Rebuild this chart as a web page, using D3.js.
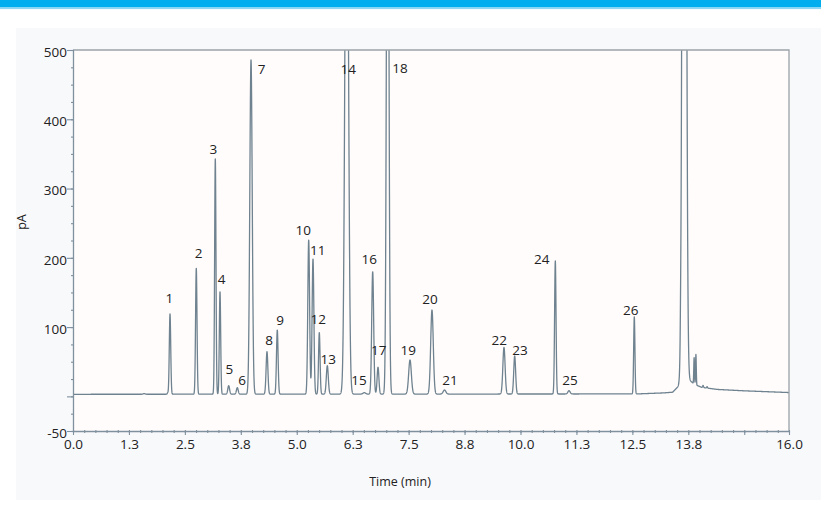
<!DOCTYPE html>
<html>
<head>
<meta charset="utf-8">
<script src="https://cdn.jsdelivr.net/npm/d3@7"></script>
<style>
  html, body { margin: 0; padding: 0; background: #ffffff; }
  svg { display: block; font-family: "Open Sans", "Noto Sans", sans-serif; }
</style>
</head>
<body>
<svg id="chart" width="821" height="526"></svg>
<script>
// Labelled peaks: retention time (min), apex signal (pA), peak sigma (min)
const peakLabels = ["1","2","3","4","5","6","7","8","9","10","11","12","13",
                    "14","15","16","17","18","19","20","21","22","23","24","25","26"];
const peakTimes  = [2.168, 2.755, 3.180, 3.285, 3.479, 3.672, 3.978, 4.335, 4.565,
                    5.267, 5.363, 5.504, 5.683, 6.116, 6.510, 6.697, 6.816, 7.032,
                    7.531, 8.022, 8.302, 9.631, 9.870, 10.778, 11.084, 12.543];
const peakApex   = [118.9, 184.9, 342.7, 151.1, 15.4, 12.5, 485.6, 64.5, 95.8,
                    225.7, 198.3, 91.9, 44.3, 930, 5.3, 180.0, 42.0, 1040,
                    52.5, 124.7, 9.2, 70.8, 58.3, 195.4, 8.2, 115.0];
const peakSigma  = [0.016, 0.016, 0.015, 0.015, 0.020, 0.020, 0.027, 0.020, 0.018,
                    0.020, 0.020, 0.017, 0.022, 0.037, 0.030, 0.022, 0.020, 0.025,
                    0.030, 0.029, 0.030, 0.025, 0.021, 0.016, 0.025, 0.014];

// Label anchors in data units (time, pA)
const labelTimes  = [2.152, 2.808, 3.135, 3.323, 3.493, 3.777, 4.216, 4.380, 4.626,
                     5.146, 5.468, 5.482, 5.705, 6.152, 6.391, 6.621, 6.831, 7.307,
                     7.493, 7.978, 8.425, 9.526, 9.989, 10.473, 11.106, 12.462];
const labelValues = [141.6, 206.9, 357.1, 168.9, 38.9, 23.5, 472.1, 81.3, 110.2,
                     240.1, 211.2, 111.1, 53.4, 472.1, 23.5, 197.4, 66.9, 473.6,
                     66.9, 140.2, 23.5, 81.3, 66.9, 197.8, 23.5, 124.6];

// Unlabelled components: solvent front, its shoulders and small bumps
const extraTimes = [1.590, 2.116, 13.660, 13.575, 13.880, 13.920, 14.080, 14.170];
const extraAmp   = [1.0, 2.0, 2100, 12, 38, 44, 3, 2];
const extraSigma = [0.020, 0.010, 0.035, 0.006, 0.008, 0.008, 0.010, 0.010];

// Detector baseline (time, pA)
const baseTimes  = [0, 12.6, 13.2, 13.40, 13.55, 13.66, 13.80, 13.90, 14.05, 14.4, 15.0, 16.0];
const baseValues = [3.0, 3.5, 5.0, 6.0, 16, 28, 22, 17, 13, 10, 8, 5.5];

// Axis ticks
const xTickValues = [0, 1.25, 2.5, 3.75, 5, 6.25, 7.5, 8.75, 10, 11.25, 12.5, 13.75, 15, 16];
const xTickLabels = ["0.0","1.3","2.5","3.8","5.0","6.3","7.5","8.8","10.0","11.3","12.5","13.8","","16.0"];
const yTickValues = [-50, 0, 100, 200, 300, 400, 500];
const yTickLabels = ["-50","","100","200","300","400","500"];

const svg = d3.select("#chart");
const W = 821, H = 526;
const plot = {left: 73, right: 789, top: 50, bottom: 431};

// header band and panel
svg.append("rect").attr("x", 0).attr("y", 0).attr("width", W).attr("height", 7.5).attr("fill", "#00adee");
svg.append("rect").attr("x", 0).attr("y", 7.5).attr("width", W).attr("height", 1.6).attr("fill", "#8fd6f4");
svg.append("rect").attr("x", 16).attr("y", 28).attr("width", W - 16).attr("height", 472).attr("fill", "#f8f9fb");

const x = d3.scaleLinear().domain([0, 16]).range([plot.left, plot.right]);
const y = d3.scaleLinear().domain([-50, 500]).range([plot.bottom, plot.top]);

svg.append("rect")
  .attr("x", plot.left).attr("y", plot.top)
  .attr("width", plot.right - plot.left).attr("height", plot.bottom - plot.top)
  .attr("fill", "#fffcfb");

// baseline by linear segments between the anchors
const baseAt = d3.scaleLinear().domain(baseTimes).range(baseValues).clamp(true);

function signal(t) {
  let v = baseAt(t);
  for (let i = 0; i < peakTimes.length; i++) {
    const d = (t - peakTimes[i]) / peakSigma[i];
    if (Math.abs(d) < 8) v += (peakApex[i] - baseAt(peakTimes[i])) * Math.exp(-0.5 * d * d);
  }
  for (let i = 0; i < extraTimes.length; i++) {
    const d = (t - extraTimes[i]) / extraSigma[i];
    if (Math.abs(d) < 8) v += extraAmp[i] * Math.exp(-0.5 * d * d);
  }
  return v;
}

const step = 0.002;
const trace = d3.range(0, 16 + step / 2, step).map(t => [t, signal(t)]);

svg.append("clipPath").attr("id", "plotClip")
  .append("rect")
  .attr("x", plot.left).attr("y", plot.top)
  .attr("width", plot.right - plot.left).attr("height", plot.bottom - plot.top);

svg.append("path")
  .datum(trace)
  .attr("clip-path", "url(#plotClip)")
  .attr("fill", "none")
  .attr("stroke", "#6f828f")
  .attr("stroke-width", 1.3)
  .attr("stroke-linejoin", "round")
  .attr("d", d3.line().x(d => x(d[0])).y(d => y(d[1])));

// frame top and right
svg.append("path")
  .attr("d", `M${plot.left},${plot.top}H${plot.right}V${plot.bottom}`)
  .attr("fill", "none").attr("stroke", "#9aa2a8").attr("stroke-width", 1.3);

const axisColor = "#7f909e";

// x axis: minor then major ticks
const xMinor = svg.append("g").attr("transform", `translate(0,${plot.bottom - 1})`)
  .call(d3.axisBottom(x).tickValues(d3.range(0, 16.001, 0.25)).tickSize(3).tickSizeOuter(0).tickFormat(""));
xMinor.select(".domain").remove();
const xMajor = svg.append("g").attr("transform", `translate(0,${plot.bottom})`)
  .call(d3.axisBottom(x).tickValues(xTickValues).tickSize(4).tickPadding(4.5).tickSizeOuter(0)
        .tickFormat((d, i) => xTickLabels[i]));

// y axis: minor then major ticks
const yMinor = svg.append("g").attr("transform", `translate(${plot.left + 1},0)`)
  .call(d3.axisLeft(y).tickValues(d3.range(-50, 500.001, 25)).tickSize(3).tickSizeOuter(0).tickFormat(""));
yMinor.select(".domain").remove();
const yMajor = svg.append("g").attr("transform", `translate(${plot.left},0)`)
  .call(d3.axisLeft(y).tickValues(yTickValues).tickSize(6).tickPadding(0).tickSizeOuter(0)
        .tickFormat((d, i) => yTickLabels[i]));
yMajor.selectAll(".tick text").attr("y", 2);

[xMinor, xMajor, yMinor, yMajor].forEach(g => {
  g.selectAll("line").attr("stroke", axisColor).attr("stroke-width", 1.1);
  g.selectAll(".domain").attr("stroke", axisColor).attr("stroke-width", 1.3);
  g.selectAll("text").attr("fill", "#222").attr("font-size", 13.5)
    .attr("font-family", "'Open Sans', 'Noto Sans', sans-serif");
});

// peak numbers
svg.append("g").selectAll("text")
  .data(peakLabels)
  .join("text")
  .attr("x", (d, i) => x(labelTimes[i]))
  .attr("y", (d, i) => y(labelValues[i]))
  .attr("text-anchor", "middle")
  .attr("dy", "0.35em")
  .attr("font-size", 13.5)
  .attr("fill", "#222")
  .text(d => d);

// axis titles
svg.append("text")
  .attr("x", 400).attr("y", 482).attr("dy", "0.35em")
  .attr("text-anchor", "middle").attr("font-size", 12.5).attr("fill", "#222")
  .text("Time (min)");
svg.append("text")
  .attr("transform", "translate(22,222) rotate(-90)")
  .attr("dy", "0.35em")
  .attr("text-anchor", "middle").attr("font-size", 12.5).attr("fill", "#222")
  .text("pA");
</script>
</body>
</html>
